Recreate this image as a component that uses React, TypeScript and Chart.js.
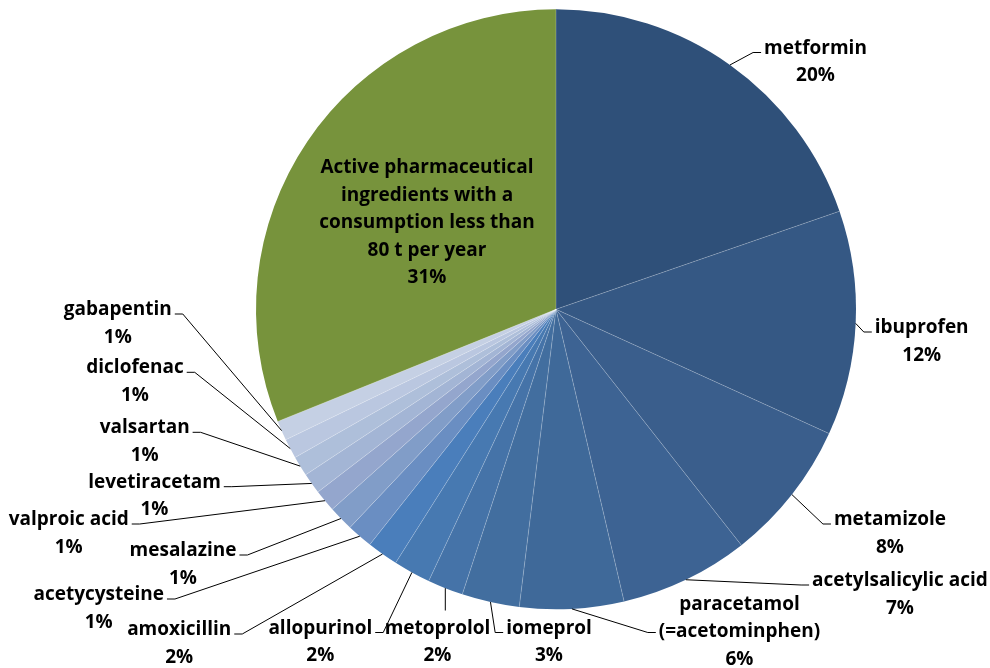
import { useEffect, useRef } from "react";
import { Chart, registerables } from "chart.js";

Chart.register(...registerables);

// Share of total consumption (%), clockwise from 12 o'clock
const categories = [
  "metformin",
  "ibuprofen",
  "metamizole",
  "acetylsalicylic acid",
  "paracetamol\n(=acetominphen)",
  "iomeprol",
  "metoprolol",
  "allopurinol",
  "amoxicillin",
  "acetycysteine",
  "mesalazine",
  "valproic acid",
  "levetiracetam",
  "valsartan",
  "diclofenac",
  "gabapentin",
  "Active pharmaceutical\ningredients with a\nconsumption less than\n80 t per year",
];

const shares = [
  19.7, 12.1, 7.6, 6.96, 5.6, 3.1, 1.92, 2.0, 1.68, 1.39, 1.35, 1.19, 1.12,
  1.08, 1.06, 1.06, 31.1,
];

const sliceColors = [
  "#2f5079",
  "#355884",
  "#3a5e8c",
  "#3d6393",
  "#3f6999",
  "#426e9f",
  "#4573a8",
  "#4779b1",
  "#4a7ebb",
  "#6a8ec2",
  "#819dc8",
  "#94a6cd",
  "#a3b5d5",
  "#aebfda",
  "#bac7e0",
  "#c5d0e4",
  "#77933c",
];

// Callout text placement: centre x, first baseline, and where the leader attaches
type Side = "left" | "right" | "below" | "inside";
const calloutX = [815.5, 921.7, 890, 900, 739.5, 549, 437.5, 320.3, 179.2, 98.7, 183, 68.7, 154.5, 144.7, 135, 117.8, 427];
const calloutY = [53.5, 333, 525, 586, 609.5, 633.5, 633.5, 633.5, 635, 600, 556, 525, 487.7, 433.3, 373.3, 315, 173.3];
const calloutSide: Side[] = [
  "right", "right", "right", "right", "right", "right", "below",
  "left", "left", "left", "left", "left", "left", "left", "left", "left",
  "inside",
];

const FONT = 'bold 19px "Open Sans"';
const LINE_HEIGHT = 27.5;

const calloutPlugin = {
  id: "callouts",
  afterDatasetsDraw(chart: any) {
    const ctx: CanvasRenderingContext2D = chart.ctx;
    const meta = chart.getDatasetMeta(0);
    const values = chart.data.datasets[0].data as number[];
    const total = values.reduce((a, b) => a + b, 0);

    // faint light separators between slices
    ctx.save();
    ctx.strokeStyle = "rgba(255,255,255,0.22)";
    ctx.lineWidth = 1;
    meta.data.forEach((el: any) => {
      const p = el.getProps(["x", "y", "startAngle", "outerRadius"], true);
      ctx.beginPath();
      ctx.moveTo(p.x, p.y);
      ctx.lineTo(
        p.x + Math.cos(p.startAngle) * (p.outerRadius - 0.5),
        p.y + Math.sin(p.startAngle) * (p.outerRadius - 0.5)
      );
      ctx.stroke();
    });
    ctx.restore();

    ctx.save();
    ctx.font = FONT;
    ctx.fillStyle = "#000";
    ctx.strokeStyle = "#000";
    ctx.lineWidth = 1;
    ctx.textAlign = "center";
    ctx.textBaseline = "alphabetic";

    meta.data.forEach((el: any, i: number) => {
      const p = el.getProps(["x", "y", "startAngle", "endAngle", "outerRadius"], true);
      const mid = (p.startAngle + p.endAngle) / 2;
      const ex = p.x + Math.cos(mid) * p.outerRadius;
      const ey = p.y + Math.sin(mid) * p.outerRadius;

      const lines = String(chart.data.labels[i]).split("\n");
      lines.push(Math.round((values[i] / total) * 100) + "%");
      const cx = calloutX[i];
      const by = calloutY[i];
      const side = calloutSide[i];
      const maxW = Math.max(...lines.map((l) => ctx.measureText(l).width));

      lines.forEach((l, k) => ctx.fillText(l, cx, by + k * LINE_HEIGHT));

      if (side === "inside") return;
      ctx.beginPath();
      ctx.moveTo(ex, ey);
      if (side === "below") {
        ctx.lineTo(ex, by - 23);
      } else {
        const row = lines.length >= 3 ? 1 : 0;
        const ay = by + row * LINE_HEIGHT - (row ? 4.5 : 1);
        const dir = side === "right" ? -1 : 1;
        const edge = cx + dir * (maxW / 2 + 3);
        ctx.lineTo(edge + dir * 8, ay);
        ctx.lineTo(edge, ay);
      }
      ctx.stroke();
    });
    ctx.restore();
  },
};

export default function App() {
  const canvasRef = useRef<HTMLCanvasElement | null>(null);

  useEffect(() => {
    document.body.style.margin = "0";
    const canvas = canvasRef.current;
    if (!canvas) return;
    const chart = new Chart(canvas, {
      type: "pie",
      data: {
        labels: categories,
        datasets: [
          {
            data: shares,
            backgroundColor: sliceColors,
            borderWidth: 0,
          },
        ],
      },
      options: {
        responsive: false,
        animation: false,
        devicePixelRatio: 1,
        layout: {
          padding: { left: 256, right: 134, top: 9.3, bottom: 58.7 },
        },
        plugins: {
          legend: { display: false },
          tooltip: { enabled: false },
        },
      },
      plugins: [calloutPlugin],
    });
    return () => chart.destroy();
  }, []);

  return (
    <div style={{ width: 990, height: 668, background: "#fff" }}>
      <canvas ref={canvasRef} width={990} height={668} />
    </div>
  );
}
